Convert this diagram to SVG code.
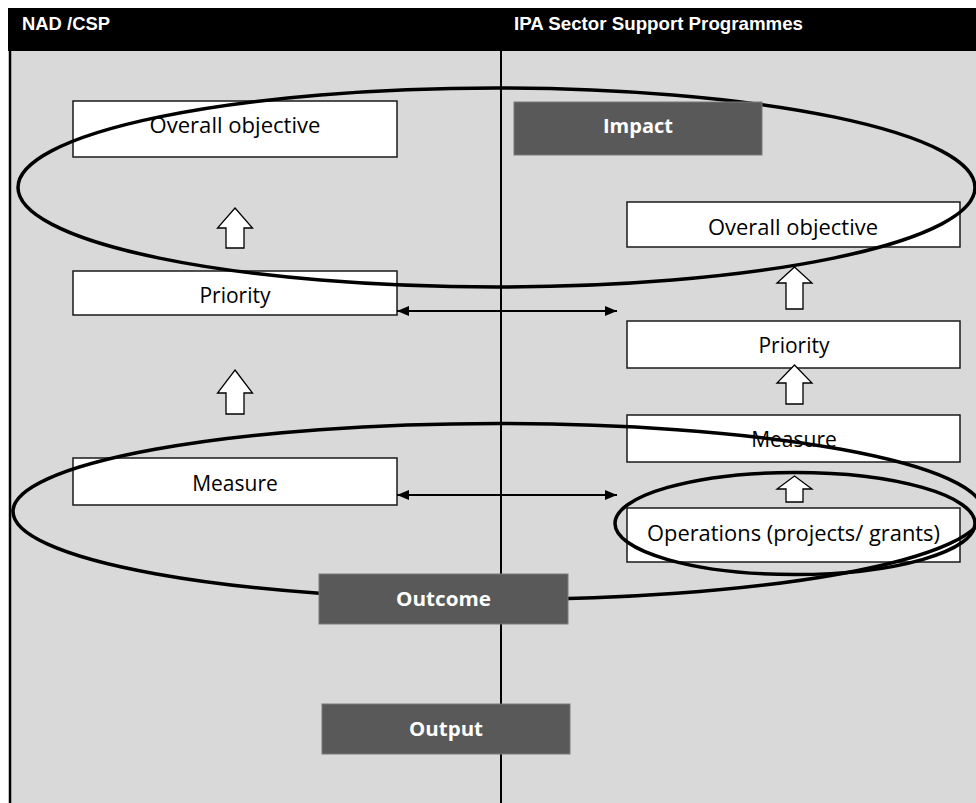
<svg xmlns="http://www.w3.org/2000/svg" width="976" height="803" viewBox="0 0 976 803">
  <defs>
    <style>
      .hdr { font-family: "Liberation Sans", Arial, sans-serif; font-weight: bold; font-size: 19px; fill: #ffffff; }
      .wbox { fill: #ffffff; stroke: #1a1a1a; stroke-width: 1.5; }
      .dbox { fill: #595959; stroke: #7a7a7a; stroke-width: 1; }
      .wt { font-family: "Open Sans", "Noto Sans", sans-serif; font-size: 21px; fill: #000000; text-anchor: middle; }
      .dt { font-family: "Open Sans", "Noto Sans", sans-serif; font-weight: bold; font-size: 20px; fill: #ffffff; text-anchor: middle; }
      .ring { fill: none; stroke: #000000; stroke-width: 3.5; }
      .blk { fill: #ffffff; stroke: #000000; stroke-width: 1.3; stroke-linejoin: miter; }
      .conn { stroke: #000000; stroke-width: 2; fill: none; }
    </style>
    <marker id="ah" viewBox="0 0 12 10" refX="12" refY="5" markerWidth="12" markerHeight="10" markerUnits="userSpaceOnUse" orient="auto-start-reverse">
      <path d="M0,0 L12,5 L0,10 Z" fill="#000000"/>
    </marker>
  </defs>

  <!-- background and frame -->
  <rect x="0" y="0" width="976" height="803" fill="#ffffff"/>
  <rect x="9" y="51" width="967" height="752" fill="#d9d9d9"/>
  <line x1="10" y1="51" x2="10" y2="803" stroke="#000000" stroke-width="2.5"/>
  <rect x="8" y="8" width="968" height="43" fill="#000000"/>
  <text class="hdr" x="22" y="30" textLength="88" lengthAdjust="spacingAndGlyphs">NAD /CSP</text>
  <text class="hdr" x="514" y="30" textLength="289" lengthAdjust="spacingAndGlyphs">IPA Sector Support Programmes</text>
  <line x1="501" y1="51" x2="501" y2="803" stroke="#000000" stroke-width="2"/>

  <!-- white nodes -->
  <g id="nad-overall-objective">
    <rect class="wbox" x="73" y="101" width="324" height="56"/>
    <text class="wt" x="235" y="133" textLength="171" lengthAdjust="spacingAndGlyphs">Overall objective</text>
  </g>
  <g id="nad-priority">
    <rect class="wbox" x="73" y="271" width="324" height="44"/>
    <text class="wt" x="235" y="303">Priority</text>
  </g>
  <g id="nad-measure">
    <rect class="wbox" x="73" y="458" width="324" height="47"/>
    <text class="wt" x="235" y="491">Measure</text>
  </g>
  <g id="ipa-overall-objective">
    <rect class="wbox" x="627" y="202" width="333" height="45"/>
    <text class="wt" x="793" y="235" textLength="170" lengthAdjust="spacingAndGlyphs">Overall objective</text>
  </g>
  <g id="ipa-priority">
    <rect class="wbox" x="627" y="321" width="333" height="47"/>
    <text class="wt" x="794" y="353">Priority</text>
  </g>
  <g id="ipa-measure">
    <rect class="wbox" x="627" y="415" width="333" height="47"/>
    <text class="wt" x="794" y="447">Measure</text>
  </g>
  <g id="ipa-operations">
    <rect class="wbox" x="627" y="508" width="333" height="54"/>
    <text class="wt" x="793.5" y="541" textLength="293" lengthAdjust="spacingAndGlyphs">Operations (projects/ grants)</text>
  </g>

  <!-- connectors -->
  <g id="connectors">
    <path class="blk" d="M235,208 L252.5,228 L244,228 L244,248 L226,248 L226,228 L217.5,228 Z"/>
    <path class="blk" d="M235,370 L252.5,393 L244,393 L244,414 L226,414 L226,393 L217.5,393 Z"/>
    <path class="blk" d="M794.5,267 L812,283 L803,283 L803,309 L786,309 L786,283 L777,283 Z"/>
    <path class="blk" d="M794.5,365 L812,383 L803,383 L803,404 L786,404 L786,383 L777,383 Z"/>
    <path class="blk" d="M794.5,476 L812,489 L803,489 L803,502 L786,502 L786,489 L777,489 Z"/>
    <line class="conn" x1="397" y1="311" x2="617" y2="311" marker-start="url(#ah)" marker-end="url(#ah)"/>
    <line class="conn" x1="397" y1="495" x2="617" y2="495" marker-start="url(#ah)" marker-end="url(#ah)"/>
  </g>

  <!-- grouping rings -->
  <g id="ring-impact">
    <ellipse class="ring" cx="496.5" cy="187.5" rx="478.5" ry="99.5"/>
  </g>
  <g id="ring-outcome">
    <ellipse class="ring" cx="498" cy="511.5" rx="485" ry="88"/>
  </g>
  <g id="ring-operations">
    <ellipse class="ring" cx="795" cy="523.5" rx="180" ry="51"/>
  </g>

  <!-- dark level nodes -->
  <g id="impact">
    <rect class="dbox" x="514" y="102" width="248" height="53"/>
    <text class="dt" x="638" y="133" textLength="70" lengthAdjust="spacingAndGlyphs">Impact</text>
  </g>
  <g id="outcome">
    <rect class="dbox" x="319" y="574" width="249" height="50"/>
    <text class="dt" x="443.5" y="606" textLength="95" lengthAdjust="spacingAndGlyphs">Outcome</text>
  </g>
  <g id="output">
    <rect class="dbox" x="322" y="704" width="248" height="50"/>
    <text class="dt" x="446" y="736" textLength="74" lengthAdjust="spacingAndGlyphs">Output</text>
  </g>
</svg>
